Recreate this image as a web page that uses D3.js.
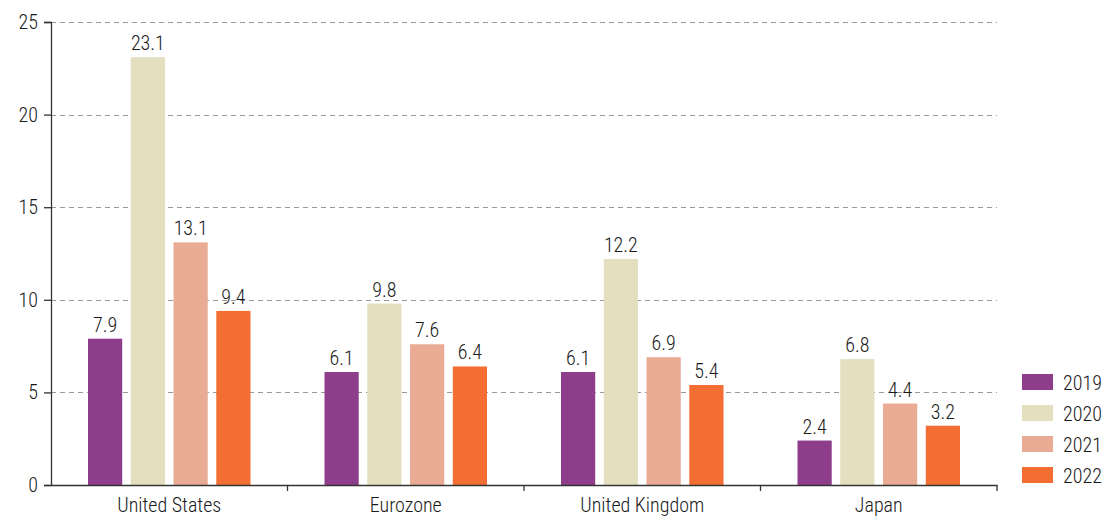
<!DOCTYPE html>
<html>
<head>
<meta charset="utf-8">
<script src="https://cdn.jsdelivr.net/npm/d3@7"></script>
<style>
  body { margin: 0; background: #fff; }
  text { font-family: "Roboto Condensed", "Roboto", sans-serif; font-weight: 300; fill: #1a1a1a; }
</style>
</head>
<body>
<div id="chart"></div>
<script>
// data
var categories = ["United States", "Eurozone", "United Kingdom", "Japan"];
var years = ["2019", "2020", "2021", "2022"];
var values = {
  "2019": [7.9, 6.1, 6.1, 2.4],
  "2020": [23.1, 9.8, 12.2, 6.8],
  "2021": [13.1, 7.6, 6.9, 4.4],
  "2022": [9.4, 6.4, 5.4, 3.2]
};
var yTicks = [0, 5, 10, 15, 20, 25];
var colors = ["#8e3d8b", "#e3dfbf", "#e9ab94", "#f26e33"];

var width = 1104, height = 518;
var margin = {top: 22, right: 107, bottom: 33, left: 51};
var innerW = width - margin.left - margin.right,
    innerH = height - margin.top - margin.bottom;

var svg = d3.select("#chart")
  .append("svg")
  .attr("width", width)
  .attr("height", height);

var g = svg.append("g")
  .attr("transform", "translate(" + margin.left + "," + margin.top + ")");

var x = d3.scaleBand()
  .domain(categories)
  .range([0, innerW])
  .paddingInner(0)
  .paddingOuter(0);

var x1 = d3.scaleBand()
  .domain(years)
  .range([37, x.bandwidth() - 37])
  .paddingInner(0.2)
  .paddingOuter(0);

var y = d3.scaleLinear()
  .domain([0, 25])
  .range([innerH, 0]);

var color = d3.scaleOrdinal().domain(years).range(colors);

// gridlines
g.append("g")
  .selectAll("line")
  .data(yTicks.filter(function(d) { return d > 0; }))
  .enter().append("line")
  .attr("x1", 0)
  .attr("x2", innerW)
  .attr("y1", function(d) { return Math.round(y(d)) + 0.5; })
  .attr("y2", function(d) { return Math.round(y(d)) + 0.5; })
  .attr("stroke", "#999")
  .attr("stroke-width", 1)
  .attr("stroke-dasharray", "5,4");

// bars
var rows = [];
categories.forEach(function(c, i) {
  years.forEach(function(yr) {
    rows.push({cat: c, year: yr, value: values[yr][i]});
  });
});

g.append("g")
  .selectAll("rect")
  .data(rows)
  .enter().append("rect")
  .attr("x", function(d) { return x(d.cat) + x1(d.year); })
  .attr("y", function(d) { return y(d.value); })
  .attr("width", x1.bandwidth())
  .attr("height", function(d) { return innerH - y(d.value); })
  .attr("fill", function(d) { return color(d.year); });

// value labels
g.append("g")
  .selectAll("text")
  .data(rows)
  .enter().append("text")
  .attr("x", function(d) { return x(d.cat) + x1(d.year) + x1.bandwidth() / 2; })
  .attr("y", function(d) { return y(d.value) - 7; })
  .attr("text-anchor", "middle")
  .style("font-size", "20px")
  .text(function(d) { return d.value.toFixed(1); });

// axes
var yAxis = g.append("g")
  .call(d3.axisLeft(y).tickValues(yTicks).tickSize(7).tickPadding(6));
yAxis.selectAll("text").style("font-size", "20px").style("font-family", "'Roboto Condensed', Roboto, sans-serif");
yAxis.selectAll("line, path").attr("stroke", "#333").attr("stroke-width", 1.3);

var xAxis = g.append("g")
  .attr("transform", "translate(0," + innerH + ")")
  .call(d3.axisBottom(x).tickSize(0).tickSizeOuter(0).tickPadding(13));
xAxis.selectAll("text").style("font-size", "20px").style("font-family", "'Roboto Condensed', Roboto, sans-serif");
xAxis.select("path").attr("stroke", "#333").attr("stroke-width", 1.3);

// separators between categories
xAxis.append("g")
  .selectAll("line")
  .data(categories.slice(1).concat(["end"]))
  .enter().append("line")
  .attr("x1", function(d, i) { return x.bandwidth() * (i + 1); })
  .attr("x2", function(d, i) { return x.bandwidth() * (i + 1); })
  .attr("y1", 0)
  .attr("y2", 6)
  .attr("stroke", "#333")
  .attr("stroke-width", 1.3);

// legend
var legend = svg.append("g")
  .attr("transform", "translate(1022,374)");
var item = legend.selectAll("g")
  .data(years)
  .enter().append("g")
  .attr("transform", function(d, i) { return "translate(0," + (i * 31) + ")"; });
item.append("rect")
  .attr("width", 31)
  .attr("height", 16)
  .attr("fill", function(d) { return color(d); });
item.append("text")
  .attr("x", 41)
  .attr("y", 16)
  .style("font-size", "20px")
  .text(function(d) { return d; });
</script>
</body>
</html>
